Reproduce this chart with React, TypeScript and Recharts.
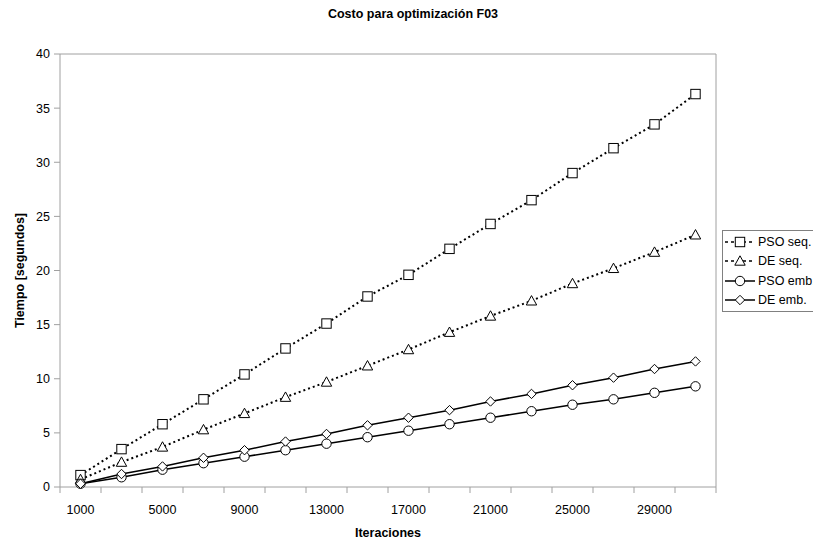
import React from "react"
import { LineChart, Line, XAxis, YAxis, ReferenceLine, Legend, Label } from "recharts"

const iteraciones = [1000, 3000, 5000, 7000, 9000, 11000, 13000, 15000, 17000, 19000, 21000, 23000, 25000, 27000, 29000, 31000]
const psoSeq = [1.1, 3.5, 5.8, 8.1, 10.4, 12.8, 15.1, 17.6, 19.6, 22.0, 24.3, 26.5, 29.0, 31.3, 33.5, 36.3]
const deSeq = [0.7, 2.3, 3.7, 5.3, 6.8, 8.3, 9.7, 11.2, 12.7, 14.3, 15.8, 17.2, 18.8, 20.2, 21.7, 23.3]
const psoEmb = [0.3, 0.9, 1.6, 2.2, 2.8, 3.4, 4.0, 4.6, 5.2, 5.8, 6.4, 7.0, 7.6, 8.1, 8.7, 9.3]
const deEmb = [0.3, 1.2, 1.9, 2.7, 3.4, 4.2, 4.9, 5.7, 6.4, 7.1, 7.9, 8.6, 9.4, 10.1, 10.9, 11.6]

const markTicks = [0, 2000, 4000, 6000, 8000, 10000, 12000, 14000, 16000, 18000, 20000, 22000, 24000, 26000, 28000, 30000, 32000]
const labelTicks = [1000, 5000, 9000, 13000, 17000, 21000, 25000, 29000]
const yTicks = [0, 5, 10, 15, 20, 25, 30, 35, 40]

const data = iteraciones.map((it, i) => ({
  it,
  psoSeq: psoSeq[i],
  deSeq: deSeq[i],
  psoEmb: psoEmb[i],
  deEmb: deEmb[i],
}))

const FONT = '"Liberation Sans", Arial, sans-serif'
const AXIS = "#a0a0a0"

type Shape = "square" | "triangle" | "circle" | "diamond"

function marker(shape: Shape, cx: number, cy: number, key?: React.Key) {
  const s = 4.7
  const common = { fill: "#fff", stroke: "#000", strokeWidth: 1 }
  if (shape === "square") return <rect key={key} x={cx - s} y={cy - s} width={s * 2} height={s * 2} {...common} />
  if (shape === "circle") return <circle key={key} cx={cx} cy={cy} r={s} {...common} />
  if (shape === "triangle")
    return <polygon key={key} points={`${cx},${cy - s - 0.5} ${cx + s + 0.5},${cy + s - 0.5} ${cx - s - 0.5},${cy + s - 0.5}`} {...common} />
  return <polygon key={key} points={`${cx},${cy - s} ${cx + s},${cy} ${cx},${cy + s} ${cx - s},${cy}`} {...common} />
}

const dot = (shape: Shape) => (p: any) => marker(shape, p.cx, p.cy, p.key ?? p.index)

const series = [
  { key: "psoSeq", name: "PSO seq.", shape: "square" as Shape, dash: "2 3", width: 2 },
  { key: "deSeq", name: "DE seq.", shape: "triangle" as Shape, dash: "2 3", width: 2 },
  { key: "psoEmb", name: "PSO emb.", shape: "circle" as Shape, dash: undefined, width: 1.5 },
  { key: "deEmb", name: "DE emb.", shape: "diamond" as Shape, dash: undefined, width: 1.5 },
]

function LegendBox() {
  return (
    <div style={{ border: "1px solid #808080", background: "#fff", width: 110, padding: "1px 0", fontFamily: FONT, fontSize: 12.5, textAlign: "left" }}>
      {series.map((s) => (
        <div key={s.key} style={{ display: "flex", alignItems: "center", height: 19.5 }}>
          <svg width={32} height={14} style={{ marginLeft: 1 }}>
            <line x1={1} y1={7} x2={31} y2={7} stroke="#000" strokeWidth={1.5} strokeDasharray={s.dash ? "3 3" : undefined} />
            {marker(s.shape, 16, 7)}
          </svg>
          <span style={{ marginLeft: 2 }}>{s.name}</span>
        </div>
      ))}
    </div>
  )
}

export default function App() {
  return (
    <div style={{ position: "absolute", left: 0, top: 0, width: 813, height: 541, overflow: "hidden", background: "#fff" }}>
      <div style={{ position: "absolute", top: 7, left: 0, width: 826, textAlign: "center", fontFamily: FONT, fontWeight: "bold", fontSize: 12.5 }}>
        Costo para optimización F03
      </div>
      <LineChart width={813} height={541} data={data} margin={{ top: 54, right: 97, left: 0, bottom: 0 }}>
        <XAxis
          xAxisId="axA"
          dataKey="it"
          type="number"
          domain={[0, 32000]}
          ticks={markTicks}
          interval={0}
          tick={() => <g />}
          tickSize={6}
          height={6}
          stroke={AXIS}
        />
        <XAxis
          xAxisId="axB"
          dataKey="it"
          type="number"
          domain={[0, 32000]}
          ticks={labelTicks}
          interval={0}
          axisLine={false}
          tickLine={false}
          tickSize={6}
          tickMargin={6}
          height={48}
          tick={{ fill: "#000", fontSize: 12.5, fontFamily: FONT }}
        >
          <Label value="Iteraciones" position="insideBottom" offset={4} style={{ fontFamily: FONT, fontWeight: "bold", fontSize: 12.5, fill: "#000" }} />
        </XAxis>
        <YAxis
          domain={[0, 40]}
          ticks={yTicks}
          interval={0}
          width={60}
          tickSize={6}
          tickMargin={4}
          stroke={AXIS}
          tick={{ fill: "#000", fontSize: 12.5, fontFamily: FONT }}
        >
          <Label
            content={(props: any) => {
              const vb = props.viewBox
              const cx = 20
              const cy = vb.y + vb.height / 2
              return (
                <text x={cx} y={cy} transform={`rotate(-90, ${cx}, ${cy})`} textAnchor="middle" dominantBaseline="central" style={{ fontFamily: FONT, fontWeight: "bold", fontSize: 12.5, fill: "#000" }}>
                  Tiempo [segundos]
                </text>
              )
            }}
          />
        </YAxis>
        <ReferenceLine y={40} xAxisId="axA" stroke={AXIS} />
        <ReferenceLine x={32000} xAxisId="axA" stroke={AXIS} />
        {series.map((s) => (
          <Line
            key={s.key}
            xAxisId="axB"
            dataKey={s.key}
            name={s.name}
            stroke="#000"
            strokeWidth={s.width}
            strokeDasharray={s.dash}
            dot={dot(s.shape)}
            activeDot={false}
            isAnimationActive={false}
          />
        ))}
        <Legend
          layout="horizontal"
          align="center"
          verticalAlign="middle"
          content={() => <LegendBox />}
          wrapperStyle={{ position: "absolute", left: 722, top: 230, width: 110 }}
        />
      </LineChart>
    </div>
  )
}
